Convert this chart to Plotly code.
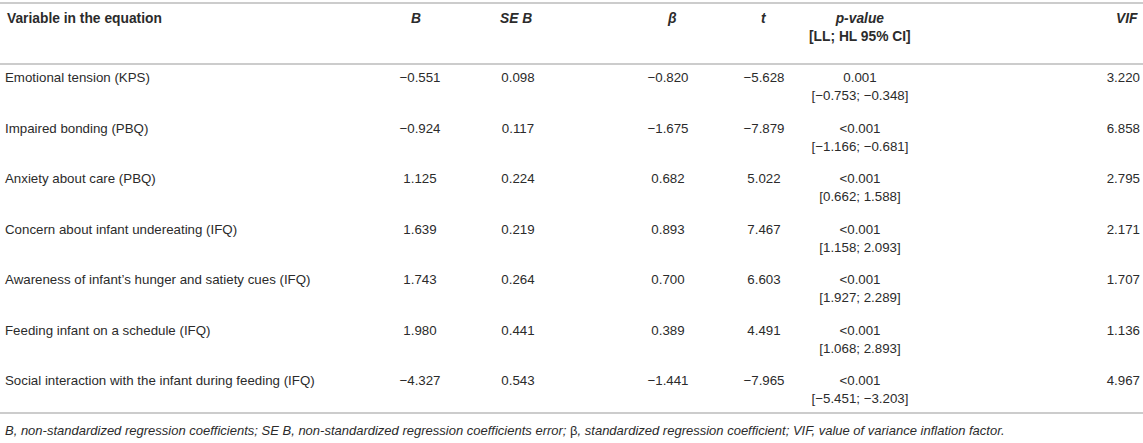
import plotly.graph_objects as go

# --- table content ---
variables = [
    "Emotional tension (KPS)",
    "Impaired bonding (PBQ)",
    "Anxiety about care (PBQ)",
    "Concern about infant undereating (IFQ)",
    "Awareness of infant\u2019s hunger and satiety cues (IFQ)",
    "Feeding infant on a schedule (IFQ)",
    "Social interaction with the infant during feeding (IFQ)",
]
b_vals = ["\u22120.551", "\u22120.924", "1.125", "1.639", "1.743", "1.980", "\u22124.327"]
se_b = ["0.098", "0.117", "0.224", "0.219", "0.264", "0.441", "0.543"]
beta = ["\u22120.820", "\u22121.675", "0.682", "0.893", "0.700", "0.389", "\u22121.441"]
t_vals = ["\u22125.628", "\u22127.879", "5.022", "7.467", "6.603", "4.491", "\u22127.965"]
p_vals = ["0.001", "<0.001", "<0.001", "<0.001", "<0.001", "<0.001", "<0.001"]
ci_vals = ["[\u22120.753; \u22120.348]", "[\u22121.166; \u22120.681]", "[0.662; 1.588]",
           "[1.158; 2.093]", "[1.927; 2.289]", "[1.068; 2.893]", "[\u22125.451; \u22123.203]"]
vif = ["3.220", "6.858", "2.795", "2.171", "1.707", "1.136", "4.967"]

headers = ["Variable in the equation", "<i>B</i>", "<i>SE B</i>", "<i>\u03b2</i>", "<i>t</i>",
           "<i>p-value</i><br>[LL; HL 95% CI]", "<i>VIF</i>"]
footnote = ("<i>B, non-standardized regression coefficients; SE B, non-standardized regression "
            "coefficients error; </i>\u03b2<i>, standardized regression coefficient; VIF, value of variance "
            "inflation factor.</i>")

# layout helpers (pixel coordinates)
W, H = 1143, 443
TXT = "#2b2b2b"
FONT = "Liberation Sans, Arial, sans-serif"
row_y = [79 + 50.5 * i for i in range(len(variables))]

# column: (values, x, textposition)
cols = [
    (variables, 5, "middle right"),
    (b_vals, 420, "middle center"),
    (se_b, 518, "middle center"),
    (beta, 668, "middle center"),
    (t_vals, 764, "middle center"),
    (p_vals, 860, "middle center"),
    (vif, 1140, "middle left"),
]

fig = go.Figure()

for vals, x, pos in cols:
    fig.add_trace(go.Scatter(
        x=[x] * len(vals), y=row_y, mode="text", text=vals,
        textposition=pos, textfont=dict(family=FONT, size=13.3, color=TXT),
        hoverinfo="skip", showlegend=False, cliponaxis=False
    ))

# confidence intervals under p-values
fig.add_trace(go.Scatter(
    x=[860] * len(ci_vals), y=[y + 18 for y in row_y], mode="text", text=ci_vals,
    textposition="middle center", textfont=dict(family=FONT, size=13.3, color=TXT),
    hoverinfo="skip", showlegend=False, cliponaxis=False
))

# header
hdr_x = [5, 416, 516, 672, 764, 860, 1140]
hdr_anchor = ["left", "center", "center", "center", "center", "center", "right"]
for h, x, a in zip(headers, hdr_x, hdr_anchor):
    fig.add_annotation(x=x, y=9, xref="x", yref="y", text="<b>" + h + "</b>",
                       showarrow=False, xanchor=a, yanchor="top", align="center",
                       font=dict(family=FONT, size=13.8, color=TXT))

fig.add_annotation(x=3, y=430, xref="x", yref="y", text=footnote, showarrow=False,
                   xanchor="left", yanchor="middle",
                   font=dict(family=FONT, size=13, color=TXT))

# horizontal rules
for yl in [3, 64, 413]:
    fig.add_shape(type="line", x0=0, x1=W, y0=yl, y1=yl, xref="x", yref="y",
                  line=dict(color="#bbbbbb", width=1.5))

fig.update_layout(
    width=W, height=H, margin=dict(l=0, r=0, t=0, b=0),
    paper_bgcolor="white", plot_bgcolor="white",
    xaxis=dict(range=[0, W], visible=False, fixedrange=True),
    yaxis=dict(range=[H, 0], visible=False, fixedrange=True),
)

fig.write_html("out.html", config={"displayModeBar": False},
               post_script="document.body.style.margin='0';")
